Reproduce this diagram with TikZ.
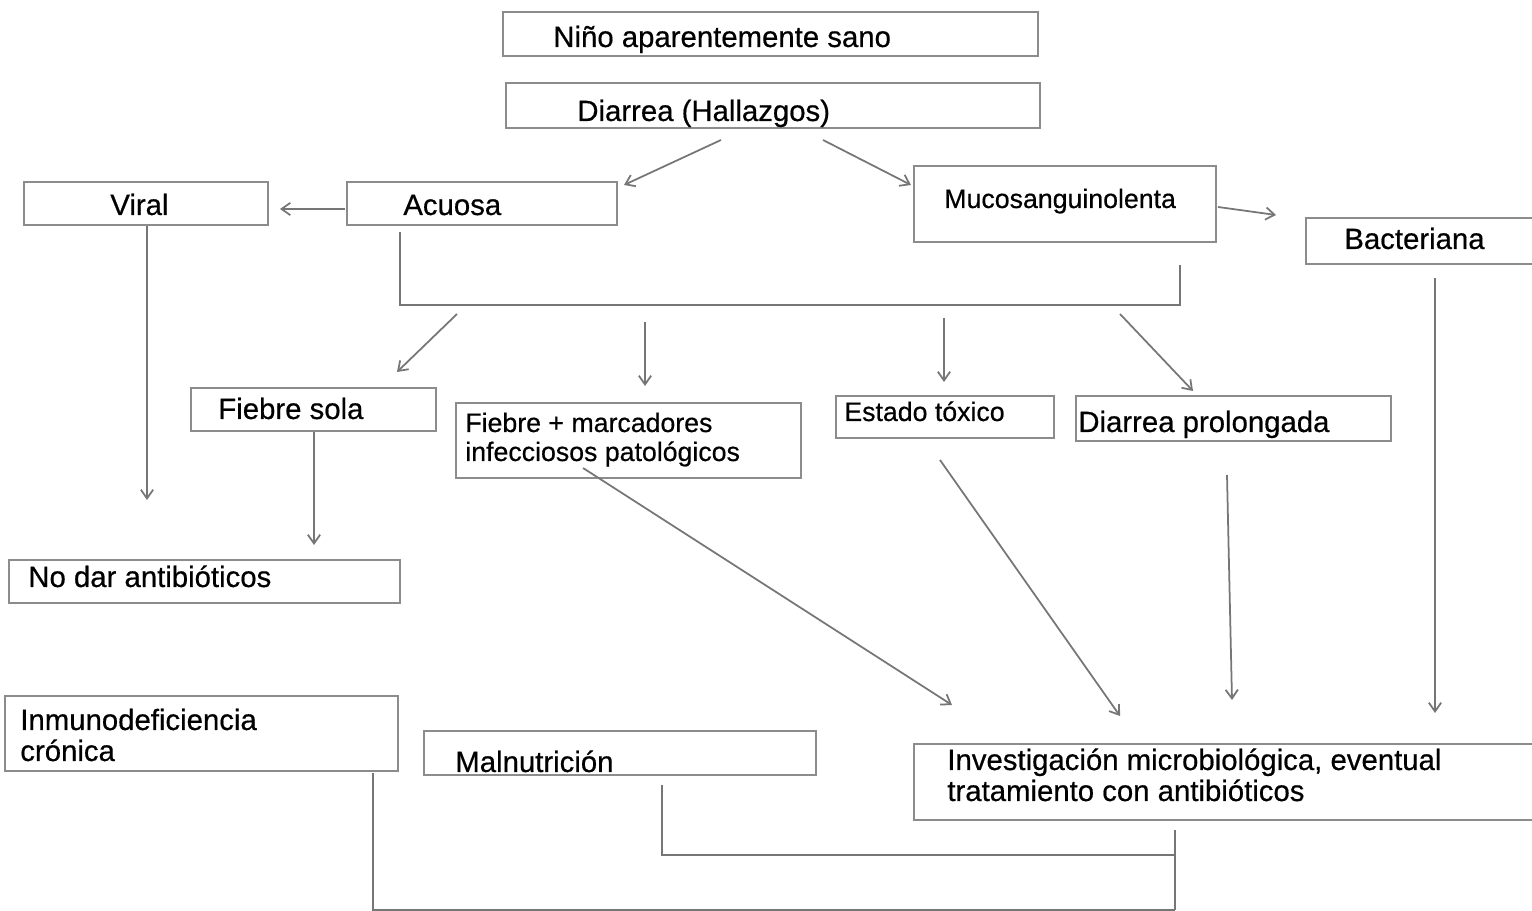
\documentclass[tikz,border=0pt]{standalone}
\usepackage{fontspec}
\setmainfont{Liberation Sans}[FakeBold=0.5]
\usetikzlibrary{fit,arrows.meta}
\definecolor{boxgray}{HTML}{8C8C8C}
\definecolor{linegray}{HTML}{767676}
\tikzset{
  box/.style={draw=boxgray, line width=1.3pt, inner sep=0pt, fill=white},
  txt/.style={anchor=base west, inner sep=0pt, font=\fontsize{16.7}{19}\selectfont},
  txts/.style={anchor=base west, inner sep=0pt, font=\fontsize{15.2}{18}\selectfont},
  conn/.style={draw=linegray, line width=1pt},
  arr/.style={conn, -{Straight Barb[length=5pt,width=7pt,line width=1pt]}}
}
\begin{document}
\begin{tikzpicture}[x=0.02cm,y=-0.02cm]
\useasboundingbox (0,0) rectangle (1532,911);
% boxes
\node[box, fit={(503,12) (1038,56)}] (nino) {};
\node[box, fit={(506,83) (1040,128)}] (diarrea) {};
\node[box, fit={(24,182) (268,225)}] (viral) {};
\node[box, fit={(347,182) (617,225)}] (acuosa) {};
\node[box, fit={(914,166) (1216,242)}] (muco) {};
\node[box, fit={(1306,218) (1540,264)}] (bact) {};
\node[box, fit={(191,388) (436,431)}] (fsola) {};
\node[box, fit={(456,403) (801,478)}] (fmarc) {};
\node[box, fit={(836,396) (1054,438)}] (toxico) {};
\node[box, fit={(1076,396) (1391,441)}] (prolong) {};
\node[box, fit={(9,560) (400,603)}] (nodar) {};
\node[box, fit={(5,696) (398,771)}] (inmuno) {};
\node[box, fit={(424,731) (816,775)}] (malnut) {};
\node[box, fit={(914,744) (1540,820)}] (invest) {};
% texts
\node[txt] (tnino) at (553,47) {Niño aparentemente sano};
\node[txt] (tdiarrea) at (577,121) {Diarrea (Hallazgos)};
\node[txt] (tviral) at (110,215) {Viral};
\node[txt] (tacuosa) at (403,215) {Acuosa};
\node[txts] (tmuco) at (944,208) {Mucosanguinolenta};
\node[txt] (tbact) at (1344,249) {Bacteriana};
\node[txt] (tfsola) at (218,419) {Fiebre sola};
\node[txts] (tfmarc1) at (465,432) {Fiebre + marcadores};
\node[txts] (tfmarc2) at (465,461) {infecciosos patológicos};
\node[txts] (ttoxico) at (844,421) {Estado tóxico};
\node[txt] (tprolong) at (1078,432) {Diarrea prolongada};
\node[txt] (tnodar) at (28,587) {No dar antibióticos};
\node[txt] (tinmuno1) at (20,730) {Inmunodeficiencia};
\node[txt] (tinmuno2) at (20,761) {crónica};
\node[txt] (tmalnut) at (455,772) {Malnutrición};
\node[txt] (tinvest1) at (947,770) {Investigación microbiológica, eventual};
\node[txt] (tinvest2) at (947,801) {tratamiento con antibióticos};
% connector coordinates
\coordinate (d1) at (721,140); \coordinate (a1) at (624,185);
\coordinate (d2) at (823,140); \coordinate (m1) at (911,185);
\coordinate (a2) at (345,209); \coordinate (v1) at (280,209);
\coordinate (m2) at (1218,207); \coordinate (b1) at (1276,215);
\coordinate (v2) at (147,226); \coordinate (v3) at (147,500);
\coordinate (br1) at (400,232); \coordinate (br2) at (400,305);
\coordinate (br3) at (1180,305); \coordinate (br4) at (1180,265);
\coordinate (s1) at (457,314); \coordinate (e1) at (397,372);
\coordinate (s2) at (645,322); \coordinate (e2) at (645,386);
\coordinate (s3) at (944,318); \coordinate (e3) at (944,382);
\coordinate (s4) at (1120,314); \coordinate (e4) at (1193,391);
\coordinate (fs1) at (314,432); \coordinate (fs2) at (314,545);
\coordinate (fm1) at (583,468); \coordinate (fm2) at (952,705);
\coordinate (tx1) at (940,460); \coordinate (tx2) at (1120,716);
\coordinate (pr1) at (1227,475); \coordinate (pr2) at (1232,700);
\coordinate (bc1) at (1435,278); \coordinate (bc2) at (1435,713);
\coordinate (mn1) at (662,785); \coordinate (mn2) at (662,855);
\coordinate (iv1) at (1175,830); \coordinate (iv2) at (1175,855); \coordinate (iv3) at (1175,910);
\coordinate (im1) at (373,773); \coordinate (im2) at (373,910);
% connectors
\draw[arr] (d1) -- (a1);
\draw[arr] (d2) -- (m1);
\draw[arr] (a2) -- (v1);
\draw[arr] (m2) -- (b1);
\draw[arr] (v2) -- (v3);
\draw[conn] (br1) -- (br2) -- (br3) -- (br4);
\draw[arr] (s1) -- (e1);
\draw[arr] (s2) -- (e2);
\draw[arr] (s3) -- (e3);
\draw[arr] (s4) -- (e4);
\draw[arr] (fs1) -- (fs2);
\draw[arr] (fm1) -- (fm2);
\draw[arr] (tx1) -- (tx2);
\draw[arr] (pr1) -- (pr2);
\draw[arr] (bc1) -- (bc2);
\draw[conn] (mn1) -- (mn2) -- (iv2);
\draw[conn] (iv1) -- (iv3);
\draw[conn] (im1) -- (im2) -- (iv3);
\end{tikzpicture}
\end{document}
